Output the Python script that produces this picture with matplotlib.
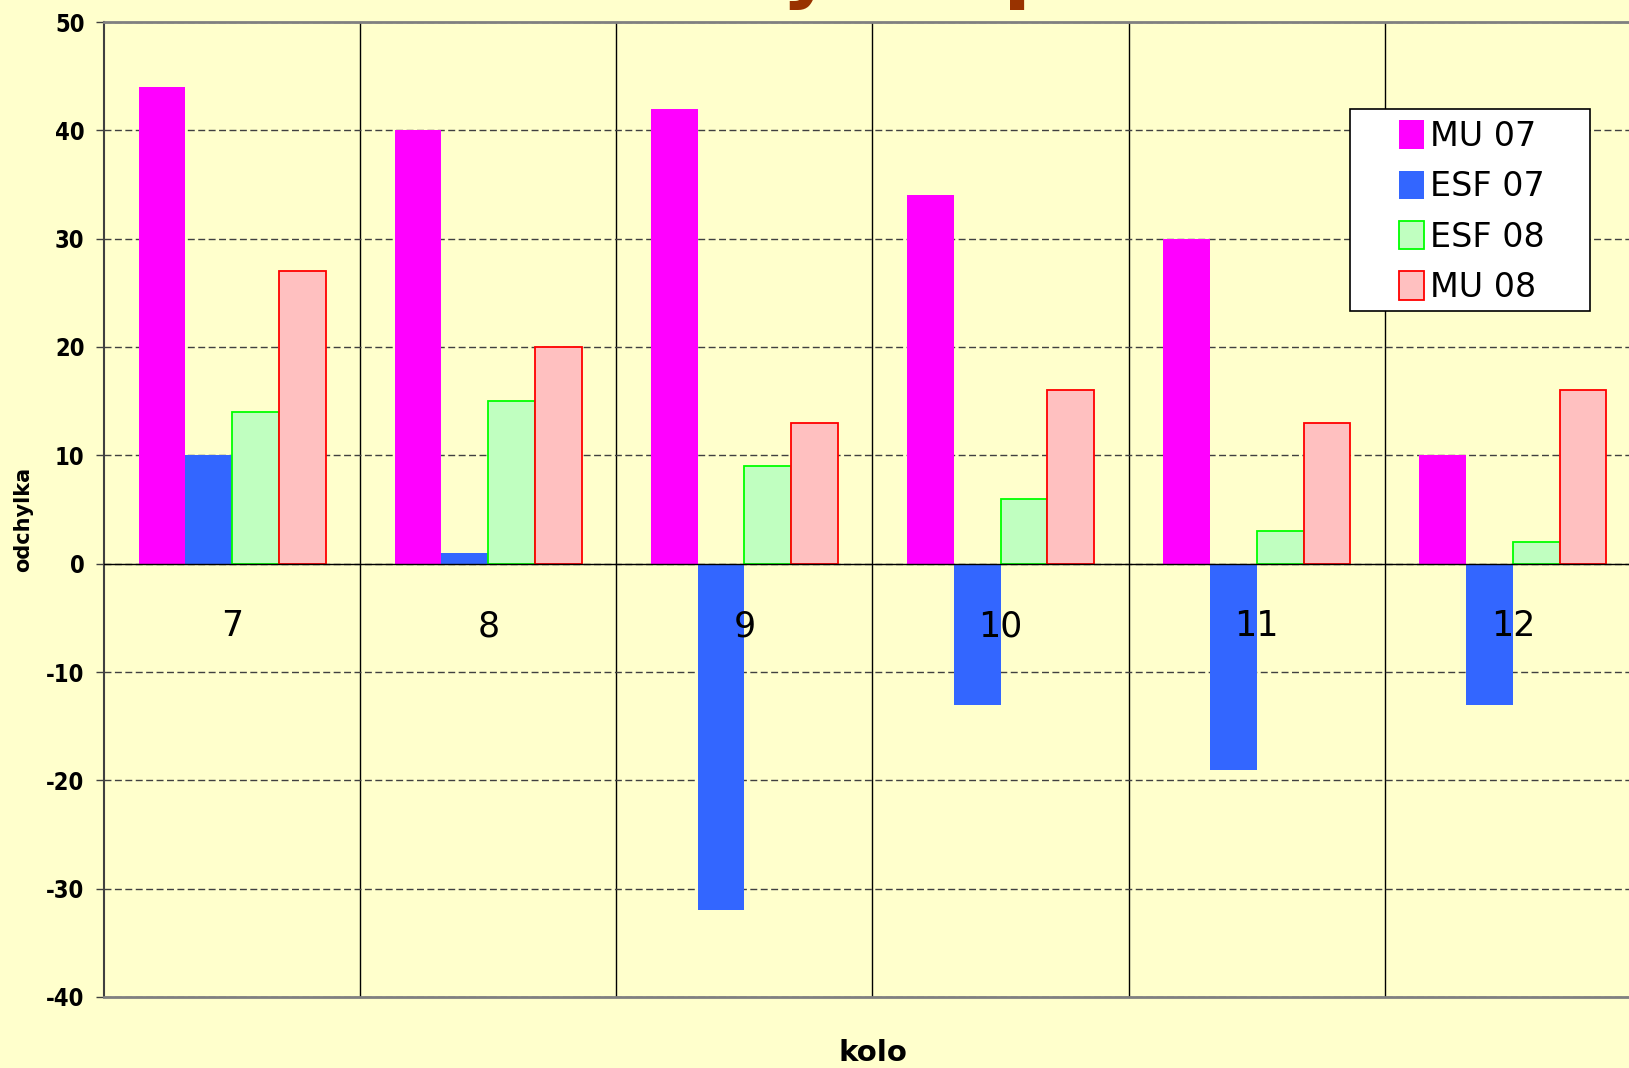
import numpy as np
import matplotlib.pyplot as plt
from matplotlib.patches import Rectangle

plt.rcParams["axes.unicode_minus"] = False

kola = ["7", "8", "9", "10", "11", "12"]
mu07 = [44, 40, 42, 34, 30, 10]
esf07 = [10, 1, -32, -13, -19, -13]
esf08 = [14, 15, 9, 6, 3, 2]
mu08 = [27, 20, 13, 16, 13, 16]

series = [
    ("MU 07", mu07, "#ff00ff", "none"),
    ("ESF 07", esf07, "#3366ff", "none"),
    ("ESF 08", esf08, "#c0ffc0", "#00ff00"),
    ("MU 08", mu08, "#ffc0c0", "#ff0000"),
]

bg = "#ffffcc"
W, H = 1629, 1068
fig = plt.figure(figsize=(W / 100, H / 100), dpi=100, facecolor=bg)
# plot area runs past the right edge, like the source picture
ax = fig.add_axes([104 / W, 71 / H, 1537 / W, 975 / H], facecolor=bg)

x = np.arange(len(kola))
w = 0.1825
for k, (name, vals, fc, ec) in enumerate(series):
    ax.bar(x + (k - 1.5) * w, vals, width=w, color=fc, edgecolor=ec,
           linewidth=1.3 if ec != "none" else 0, label=name, zorder=3)

ax.set_xlim(-0.5, len(kola) - 0.5)
ax.set_ylim(-40, 50)
ax.set_yticks(np.arange(-40, 51, 10))
ax.set_xticks(x[:-1] + 0.5)
ax.set_xticklabels([])
ax.tick_params(axis="x", length=0)
ax.tick_params(axis="y", length=6, width=1, color="#404040", pad=8)
for t in ax.get_yticklabels():
    t.set_fontweight("bold")
    t.set_fontsize(17)
    t.set_fontstretch("condensed")

ax.grid(axis="y", color="#404040", linestyle=(0, (5, 2.5)), linewidth=1.0, zorder=1)
ax.grid(axis="x", color="black", linestyle="-", linewidth=1.0, zorder=1)
ax.axhline(0, color="black", linewidth=1.0, zorder=4)

ax.spines["left"].set_color("#404040")
ax.spines["left"].set_linewidth(1.5)
for s in ["top", "bottom"]:
    ax.spines[s].set_color("#808080")
    ax.spines[s].set_linewidth(2)
ax.spines["right"].set_visible(False)

for i, lab in enumerate(kola):
    ax.text(i, -5.8, lab, ha="center", va="center", fontsize=25, zorder=5)

ax.set_ylabel("odchylka", fontsize=15, fontweight="bold")
ax.yaxis.set_label_coords(-0.046, 0.49)
ax.set_xlabel("kolo", fontsize=21, fontweight="bold")
ax.xaxis.set_label_coords(0.5003, -0.043)

# title is cut off at the top of the picture, only descenders show
fig.text(450 / W, 1 + 7 / H, "Rozdiely od priemeru", fontsize=58, fontweight="bold",
         color="#993300", ha="left", va="baseline")

# legend box
ax.add_patch(Rectangle((1350 / W, 1 - 311 / H), 240 / W, 202 / H,
                       transform=fig.transFigure, facecolor="white",
                       edgecolor="black", linewidth=1.2, zorder=5, clip_on=False))
leg = ax.legend(loc="upper left", bbox_to_anchor=(1399 / W, 1 - 120 / H),
                bbox_transform=fig.transFigure, frameon=False, fontsize=24,
                borderpad=0, borderaxespad=0, handlelength=0.75, handleheight=0.92,
                handletextpad=0.18, labelspacing=0.52)
leg.set_zorder(6)

fig.savefig("out.png", dpi=100, facecolor=bg)
